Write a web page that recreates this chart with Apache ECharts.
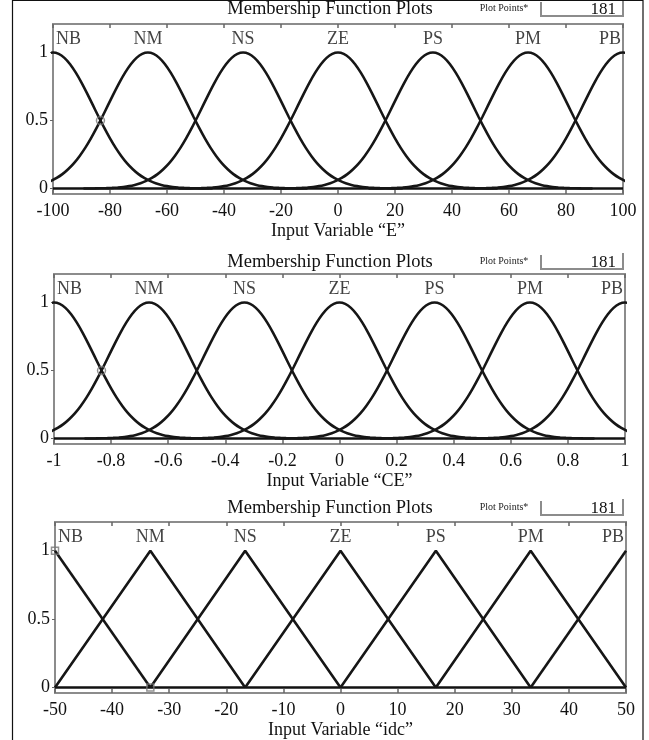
<!DOCTYPE html>
<html>
<head>
<meta charset="utf-8">
<script src="https://cdn.jsdelivr.net/npm/echarts@6/dist/echarts.min.js"></script>
<style>
  html, body { margin: 0; padding: 0; background: #fff; }
  #chart { width: 649px; height: 740px; }
</style>
</head>
<body>
<div id="chart"></div>
<script>
// Linguistic terms shared by all three variables
const mfNames = ['NB', 'NM', 'NS', 'ZE', 'PS', 'PM', 'PB'];

// Gaussian membership centres for the error E and the error change CE
const eCenters = [-100, -66.7, -33.3, 0, 33.3, 66.7, 100];
const ceCenters = [-1, -0.667, -0.333, 0, 0.333, 0.667, 1];

// Bell profile: distance from the centre (E units) and membership degree
const eBellOffsets = [0, 2, 4, 6, 8, 10, 12, 14, 16, 18, 20, 22, 24, 26, 28, 30, 32, 34, 36, 38, 40, 42, 44, 46, 48, 52, 56];
const bellDegrees = [1, 0.990, 0.961, 0.914, 0.852, 0.779, 0.698, 0.613, 0.528, 0.446, 0.369, 0.299, 0.238, 0.185,
  0.142, 0.106, 0.078, 0.056, 0.039, 0.027, 0.018, 0.012, 0.008, 0.005, 0.003, 0.001, 0];
// CE spans one hundredth of the E universe
const ceScale = 0.01;

// Triangular membership peaks for the output idc
const idcPeaks = [-50, -33.3, -16.7, 0, 16.7, 33.3, 50];

// Axis ranges and tick spacing
const eRange = [-100, 100], eStep = 20;
const ceRange = [-1, 1], ceStep = 0.2;
const idcRange = [-50, 50], idcStep = 10;
const degreeTicks = [0, 0.5, 1];
const plotPoints = '181';

const SERIF = '"Liberation Serif", "Times New Roman", serif';
const CURVE = '#161616';
const FRAME = '#8c8c8c';

const panels = [
  { top: 24,  height: 170, left: 53, width: 570, range: eRange,   step: eStep,   name: 'Input Variable \u201cE\u201d',   titleY: 9 },
  { top: 274, height: 170, left: 54, width: 571, range: ceRange,  step: ceStep,  name: 'Input Variable \u201cCE\u201d',  titleY: 262 },
  { top: 522, height: 172, left: 55, width: 571, range: idcRange, step: idcStep, name: 'Input Variable \u201cidc\u201d', titleY: 508 }
];

function fmt(v) {
  return String(Math.round(v * 1000) / 1000);
}

function bellPoints(center, scale) {
  const pts = [];
  const n = eBellOffsets.length;
  for (let k = n - 1; k > 0; k--) pts.push([center - eBellOffsets[k] * scale, bellDegrees[k]]);
  pts.push([center, bellDegrees[0]]);
  for (let k = 1; k < n; k++) pts.push([center + eBellOffsets[k] * scale, bellDegrees[k]]);
  return pts;
}

function trianglePoints(i) {
  const pts = [];
  if (i > 0) pts.push([idcPeaks[i - 1], 0]);
  pts.push([idcPeaks[i], 1]);
  if (i < idcPeaks.length - 1) pts.push([idcPeaks[i + 1], 0]);
  return pts;
}

const grid = [], xAxis = [], yAxis = [], series = [], graphic = [];

panels.forEach((p, gi) => {
  grid.push({
    left: p.left, top: p.top, width: p.width, height: p.height,
    show: true, borderColor: FRAME, borderWidth: 2, backgroundColor: '#fff'
  });
  // bottom axis with labels and name
  xAxis.push({
    gridIndex: gi, type: 'value', min: p.range[0], max: p.range[1], interval: p.step,
    position: 'bottom',
    axisLine: { show: false, onZero: false },
    splitLine: { show: false },
    axisTick: { show: true, inside: true, length: 4, lineStyle: { color: '#666', width: 1.5 } },
    axisLabel: { margin: 8, fontFamily: SERIF, fontSize: 18, color: '#111', formatter: fmt },
    name: p.name, nameLocation: 'middle', nameGap: 28,
    nameTextStyle: { fontFamily: SERIF, fontSize: 18, color: '#111' }
  });
  // top axis carrying only inward ticks
  xAxis.push({
    gridIndex: gi, type: 'value', min: p.range[0], max: p.range[1], interval: p.step,
    position: 'top',
    axisLine: { show: false, onZero: false }, splitLine: { show: false },
    axisTick: { show: true, inside: true, length: 4, lineStyle: { color: '#666', width: 1.5 } },
    axisLabel: { show: false }
  });
  yAxis.push({
    gridIndex: gi, type: 'value', min: -0.04, max: 1.21, position: 'left',
    axisLine: { show: false, onZero: false }, splitLine: { show: false },
    axisTick: { show: true, inside: false, length: 3, customValues: degreeTicks, lineStyle: { color: '#666' } },
    axisLabel: { margin: 5, fontFamily: SERIF, fontSize: 18, color: '#111', customValues: degreeTicks, formatter: fmt }
  });

  const xi = gi * 2;
  // zero baseline
  series.push({
    type: 'line', xAxisIndex: xi, yAxisIndex: gi, symbol: 'none', silent: true,
    data: [[p.range[0], 0], [p.range[1], 0]],
    lineStyle: { color: '#111', width: 2.6 }, z: 3
  });

  mfNames.forEach((nm, i) => {
    let data;
    if (gi === 0) data = bellPoints(eCenters[i], 1);
    else if (gi === 1) data = bellPoints(ceCenters[i], ceScale);
    else data = trianglePoints(i);
    series.push({
      type: 'line', name: nm, xAxisIndex: xi, yAxisIndex: gi, symbol: 'none',
      smooth: gi < 2 ? 0.25 : false, clip: true,
      data: data, lineStyle: { color: CURVE, width: 2.6 }, z: 4
    });
  });

  // term names above the peaks
  const centers = gi === 0 ? eCenters : gi === 1 ? ceCenters : idcPeaks;
  series.push({
    type: 'scatter', xAxisIndex: xi, yAxisIndex: gi, symbol: 'circle', symbolSize: 0, silent: true, clip: false,
    itemStyle: { color: 'rgba(0,0,0,0)' },
    data: centers.map((c, i) => ({
      value: [c, 1.1], name: mfNames[i],
      label: {
        align: i === 0 ? 'left' : i === centers.length - 1 ? 'right' : 'center',
        offset: i === 0 ? [3, 0] : i === centers.length - 1 ? [-2, 0] : [0, 0]
      }
    })),
    label: {
      show: true, position: 'inside', formatter: '{b}',
      fontFamily: SERIF, fontSize: 18, color: '#111'
    },
    z: 6
  });

  // selection handles
  if (gi < 2) {
    const c0 = gi === 0 ? eCenters : ceCenters;
    series.push({
      type: 'scatter', xAxisIndex: xi, yAxisIndex: gi, silent: true,
      symbol: 'circle', symbolSize: 8,
      itemStyle: { color: 'rgba(0,0,0,0)', borderColor: '#777', borderWidth: 1.5 },
      data: [[(c0[0] + c0[1]) / 2, 0.5]], z: 7
    });
  } else {
    series.push({
      type: 'scatter', xAxisIndex: xi, yAxisIndex: gi, silent: true,
      symbol: 'rect', symbolSize: 7,
      itemStyle: { color: 'rgba(0,0,0,0)', borderColor: '#777', borderWidth: 1.5 },
      data: [[idcPeaks[0], 1], [idcPeaks[1], 0]], z: 7
    });
  }

  // header line: title, plot points caption and field
  graphic.push({
    type: 'text', x: 330, y: p.titleY,
    style: { text: 'Membership Function Plots', font: '18.5px ' + SERIF, fill: '#111', align: 'center', verticalAlign: 'middle' }
  });
  graphic.push({
    type: 'text', x: 504, y: p.titleY - 1,
    style: { text: 'Plot Points*', font: '10px ' + SERIF, fill: '#222', align: 'center', verticalAlign: 'middle' }
  });
  graphic.push({
    type: 'polyline',
    shape: { points: [[541, p.titleY - 7], [541, p.titleY + 7], [623, p.titleY + 7], [623, p.titleY - 9]] },
    style: { stroke: FRAME, lineWidth: 2, fill: null }
  });
  graphic.push({
    type: 'text', x: 616, y: p.titleY + 1,
    style: { text: plotPoints, font: '17px ' + SERIF, fill: '#111', align: 'right', verticalAlign: 'middle' }
  });
});

// outer frame
graphic.push({
  type: 'rect', shape: { x: 12.5, y: 0.5, width: 630.5, height: 745 },
  style: { stroke: '#111', lineWidth: 1.2, fill: null }, z: 100
});

const chart = echarts.init(document.getElementById('chart'), null, { renderer: 'canvas' });
chart.setOption({
  animation: false,
  backgroundColor: '#fff',
  grid, xAxis, yAxis, series, graphic
});
</script>
</body>
</html>
